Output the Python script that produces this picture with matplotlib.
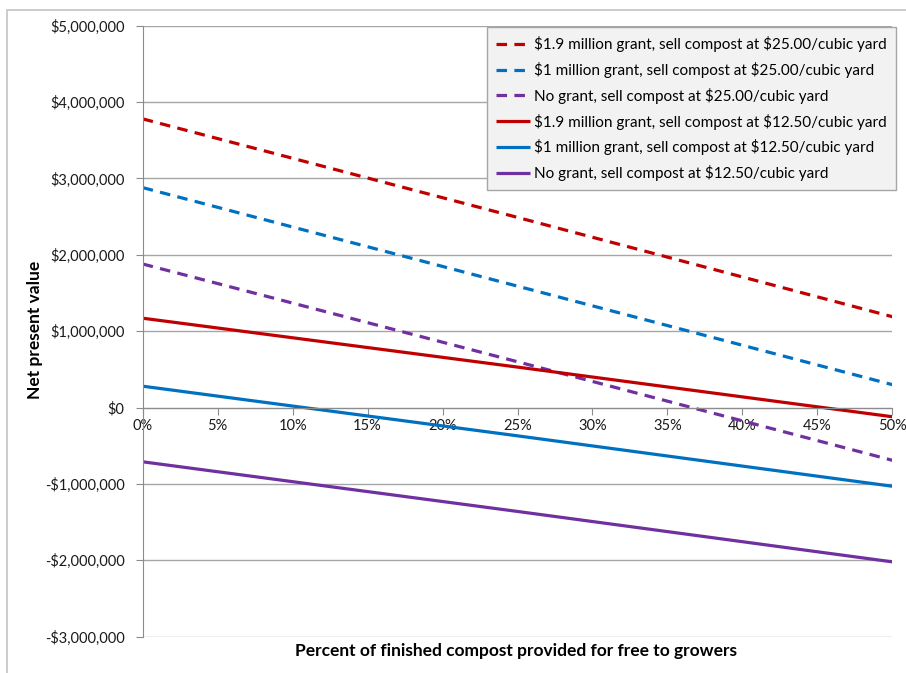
import matplotlib
matplotlib.use("Agg")
import matplotlib.pyplot as plt
from matplotlib.ticker import FuncFormatter, MultipleLocator
from matplotlib.patches import Rectangle

plt.rcParams['font.family'] = ['Lato', 'DejaVu Sans']

# Share of finished compost given away (percent)
percent_free = [0, 25, 50]

# Net present value (dollars) for each scenario
npv_19m_25 = [3780000, 2490000, 1190000]
npv_1m_25 = [2880000, 1590000, 300000]
npv_0_25 = [1880000, 600000, -690000]
npv_19m_125 = [1170000, 530000, -120000]
npv_1m_125 = [280000, -370000, -1030000]
npv_0_125 = [-710000, -1360000, -2020000]

series_labels = [
    r"\$1.9 million grant, sell compost at \$25.00/cubic yard",
    r"\$1 million grant, sell compost at \$25.00/cubic yard",
    r"No grant, sell compost at \$25.00/cubic yard",
    r"\$1.9 million grant, sell compost at \$12.50/cubic yard",
    r"\$1 million grant, sell compost at \$12.50/cubic yard",
    r"No grant, sell compost at \$12.50/cubic yard",
]
series_values = [npv_19m_25, npv_1m_25, npv_0_25, npv_19m_125, npv_1m_125, npv_0_125]

RED, BLUE, PURPLE = "#C00000", "#0070C0", "#7030A0"
colors = [RED, BLUE, PURPLE, RED, BLUE, PURPLE]
dashed = [True, True, True, False, False, False]

fig = plt.figure(figsize=(9.06, 6.73), dpi=100)
W, H = 906, 673
ax = fig.add_axes([142.7 / W, 1 - 636.7 / H, (892.3 - 142.7) / W, (636.7 - 25.7) / H])

# chart area frame
fig.patches.append(Rectangle((7 / W, -0.1), 1.2, 1 - 10 / H + 0.1, transform=fig.transFigure,
                             fill=False, edgecolor="#c4c4c4", linewidth=1.2))

for vals, lab, col, d in zip(series_values, series_labels, colors, dashed):
    line, = ax.plot(percent_free, vals, color=col, linewidth=2.3, label=lab,
                    solid_capstyle="butt", dash_capstyle="butt")
    if d:
        line.set_dashes((3.3, 2.3))

ax.set_xlim(0, 50)
ax.set_ylim(-3000000, 5000000)
ax.yaxis.set_major_locator(MultipleLocator(1000000))
ax.xaxis.set_major_locator(MultipleLocator(5))

def money(v, pos):
    v = int(round(v))
    if v < 0:
        return "-${:,}".format(-v)
    return "${:,}".format(v)

ax.yaxis.set_major_formatter(FuncFormatter(money))
ax.xaxis.set_major_formatter(FuncFormatter(lambda v, p: "{:d}%".format(int(round(v)))))

ax.grid(axis="y", color="#a6a6a6", linewidth=1.0)
ax.set_axisbelow(True)
for s in ["top", "right"]:
    ax.spines[s].set_visible(False)
ax.spines["bottom"].set_position(("data", 0))
ax.spines["bottom"].set_color("#8c8c8c")
ax.spines["left"].set_color("#8c8c8c")
ax.tick_params(axis="both", colors="#8c8c8c", labelcolor="#1a1a1a", labelsize=10.5, length=5)
ax.tick_params(axis="x", pad=3)
ax.tick_params(axis="y", pad=8)

fig.text(35 / W, 1 - 330 / H, "Net present value", rotation=90, ha="center", va="center",
         fontsize=12.5, fontweight="bold")
fig.text(516 / W, 1 - 651 / H, "Percent of finished compost provided for free to growers",
         ha="center", va="center", fontsize=12.5, fontweight="bold")

leg = fig.legend(loc="upper right", bbox_to_anchor=(896 / W, 1 - 27 / H),
                 frameon=True, fancybox=False, fontsize=11, handlelength=2.2,
                 handletextpad=0.3, labelspacing=0.64, borderpad=0.6, borderaxespad=0)
leg.get_frame().set_facecolor("#f2f2f2")
leg.get_frame().set_edgecolor("#a6a6a6")
leg.get_frame().set_linewidth(1.0)
leg.get_frame().set_alpha(1)

fig.savefig("out.png", dpi=100)
